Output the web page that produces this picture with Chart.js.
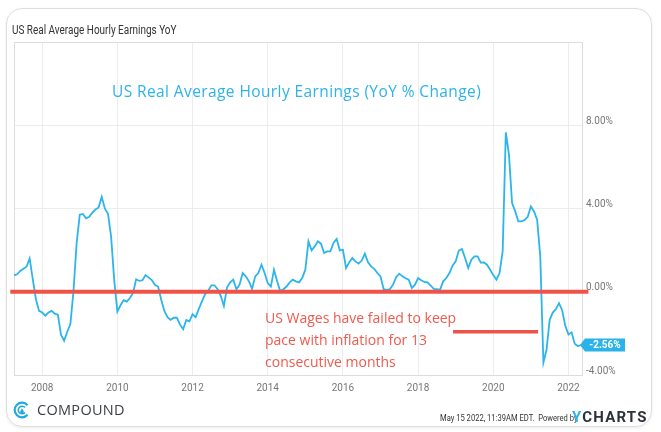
<!DOCTYPE html>
<html>
<head>
<meta charset="utf-8">
<script src="https://cdn.jsdelivr.net/npm/chart.js@4.4.1/dist/chart.umd.min.js"></script>
<style>
html, body { margin: 0; padding: 0; background: #fff; }
#wrap { position: relative; width: 661px; height: 432px; overflow: hidden; font-family: Roboto, sans-serif; }
#card { position: absolute; left: 6px; top: 8px; width: 644px; height: 417px; border: 1px solid #dedede; border-radius: 16px; box-shadow: 0 1px 3px rgba(0,0,0,0.08); }
canvas { position: absolute; left: 0; top: 0; }
.txt { position: absolute; white-space: nowrap; }
#head { left: 12px; top: 23px; font-size: 12px; color: #333; transform: scaleX(0.83); transform-origin: left center; }
#title { left: 112px; top: 80px; font-family: 'Open Sans', sans-serif; font-size: 15.5px; letter-spacing: 0.4px; color: #2cb3ea; }
#note { left: 265px; top: 307px; font-family: 'Open Sans', sans-serif; font-size: 14px; line-height: 22px; color: #ef5a4e; }
#logo { left: 13px; top: 401px; }
#compound { left: 37px; top: 400px; font-family: 'Open Sans', sans-serif; font-size: 14.5px; color: #3b3f45; letter-spacing: 0.3px; }
#stamp { left: 440px; top: 412px; font-size: 9.5px; color: #333; transform: scaleX(0.8); transform-origin: left center; }
#ycharts { left: 572px; top: 408px; font-size: 15px; font-weight: bold; color: #2d3138; letter-spacing: 1.2px; }
#ycharts span { color: #2cb5ea; }
</style>
</head>
<body>
<div id="wrap">
  <div id="card"></div>
  <canvas id="chart" width="661" height="432"></canvas>
  <div class="txt" id="head">US Real Average Hourly Earnings YoY</div>
  <div class="txt" id="title">US Real Average Hourly Earnings (YoY % Change)</div>
  <div class="txt" id="note">US Wages have failed to keep<br>pace with inflation for 13<br>consecutive months</div>
  <svg class="txt" id="logo" width="18" height="18" viewBox="0 0 18 18">
    <path d="M14.5 4.2 A7.3 7.3 0 1 0 14.5 13.8" fill="none" stroke="#22a8e0" stroke-width="2.2"/>
    <path d="M12 6.6 A3.8 3.8 0 1 0 12 11.4" fill="none" stroke="#22a8e0" stroke-width="1.6"/>
    <path d="M9 7.2 L10.6 10 A1.8 1.8 0 1 1 7.4 10 Z" fill="#22a8e0"/>
  </svg>
  <div class="txt" id="compound">COMPOUND</div>
  <div class="txt" id="stamp">May 15 2022, 11:39AM EDT.&nbsp; Powered by</div>
  <div class="txt" id="ycharts"><span>Y</span>CHARTS</div>
</div>
<script>
// monthly series, first value is March 2007 (plotted at month end)
const startYear = 2007;
const startMonth = 3;
const yoyChange = [
  // 2007 Mar-Dec
  0.79, 0.84, 1.0, 1.1, 1.2, 1.6, 0.6, -0.36, -0.92, -1.0,
  // 2008
  -1.15, -1.0, -0.92, -1.05, -1.1, -2.06, -2.35, -1.92, -1.55, 0.05, 2.35, 3.7,
  // 2009
  3.74, 3.53, 3.6, 3.8, 3.95, 4.05, 4.56, 4.0, 3.75, 2.65, 0.55, -0.95,
  // 2010
  -0.65, -0.4, -0.47, -0.3, -0.06, 0.6, 0.52, 0.55, 0.8, 0.68, 0.56, 0.32,
  // 2011
  0.25, -0.38, -0.92, -1.22, -1.35, -1.25, -1.25, -1.58, -1.8, -1.36, -1.42, -1.08,
  // 2012
  -1.22, -0.82, -0.46, -0.12, 0.05, 0.31, 0.31, 0.12, -0.2, -0.68, 0.2, 0.45,
  // 2013
  0.58, 0.12, 0.34, 0.9, 0.74, 0.5, 0.14, 0.74, 0.9, 1.3, 0.9, 0.42,
  // 2014
  0.25, 1.06, 0.5, 0.02, 0.12, 0.25, 0.45, 0.58, 0.5, 0.45, 0.66, 1.06,
  // 2015
  2.42, 1.99, 2.18, 2.42, 2.31, 1.86, 1.94, 1.94, 2.34, 2.54, 1.99, 2.02,
  // 2016
  1.14, 1.41, 1.62, 1.46, 1.35, 1.5, 1.83, 1.41, 1.22, 1.1, 0.9, 0.74,
  // 2017
  0.12, 0.09, 0.12, 0.34, 0.7, 0.87, 0.74, 0.65, 0.58, 0.18, 0.34, 0.66,
  // 2018
  0.55, 0.47, 0.45, 0.3, 0.14, 0.12, 0.09, 0.5, 0.66, 0.9, 1.25, 1.46,
  // 2019
  1.98, 2.05, 1.62, 1.14, 1.54, 1.7, 1.7, 1.4, 1.41, 1.3, 1.06, 0.8,
  // 2020
  0.58, 0.9, 1.95, 7.66, 6.59, 4.26, 3.86, 3.38, 3.38, 3.45, 3.6, 4.1,
  // 2021
  3.86, 3.46, 1.7, -3.4, -2.79, -1.35, -1.0, -0.83, -0.55, -0.9, -1.65, -2.05,
  // 2022 Jan-Apr
  -1.95, -2.5, -2.62, -2.56
];
const xTickYears = [2008, 2010, 2012, 2014, 2016, 2018, 2020, 2022];
const yTickValues = [-4, 0, 4, 8, 12];

// hand drawn red marks (in data units)
const zeroMark = [[2007.15, 0], [2022.53, 0]];
const noteMark = [[2018.93, -1.92], [2021.19, -1.92]];

const points = yoyChange.map((v, i) => ({ x: startYear + (startMonth + i) / 12, y: v }));

// light border around the plot
const frame = {
  id: 'frame',
  beforeDatasetsDraw(chart) {
    const { ctx, chartArea: a } = chart;
    ctx.save();
    ctx.strokeStyle = '#dcdcdc';
    ctx.lineWidth = 1;
    ctx.strokeRect(Math.round(a.left) + 0.5, Math.round(a.top) + 0.5, Math.round(a.right - a.left), Math.round(a.bottom - a.top));
    ctx.restore();
  }
};

// blue tag with the latest value
const lastTag = {
  id: 'lastTag',
  afterDatasetsDraw(chart) {
    const meta = chart.getDatasetMeta(2);
    const pt = meta.data[meta.data.length - 1];
    const ctx = chart.ctx;
    const x = pt.x - 1, y = pt.y;
    ctx.save();
    ctx.fillStyle = '#29b3e8';
    ctx.beginPath();
    ctx.moveTo(x, y);
    ctx.lineTo(x + 5, y - 6.5);
    ctx.lineTo(x + 45, y - 6.5);
    ctx.lineTo(x + 45, y + 6.5);
    ctx.lineTo(x + 5, y + 6.5);
    ctx.closePath();
    ctx.fill();
    ctx.fillStyle = '#fff';
    ctx.font = 'bold 10px Roboto';
    ctx.textAlign = 'center';
    ctx.textBaseline = 'middle';
    ctx.fillText(yoyChange[yoyChange.length - 1].toFixed(2) + '%', x + 25, y + 0.5);
    ctx.restore();
  }
};

const redLine = (pts, w) => ({
  data: pts.map(p => ({ x: p[0], y: p[1] })),
  borderColor: '#ef5347',
  borderWidth: w,
  pointRadius: 0,
  clip: false,
  order: 0
});

new Chart(document.getElementById('chart').getContext('2d'), {
  type: 'line',
  data: {
    datasets: [
      redLine(zeroMark, 4),
      redLine(noteMark, 3.5),
      { data: points, borderColor: '#2cb5ec', borderWidth: 1.8, pointRadius: 0, tension: 0, order: 1 }
    ]
  },
  options: {
    responsive: false,
    animation: false,
    layout: { padding: { left: 14, top: 42, right: 0, bottom: 0 } },
    plugins: { legend: { display: false }, tooltip: { enabled: false } },
    scales: {
      x: {
        type: 'linear',
        min: 2007.25,
        max: 2022.36,
        afterBuildTicks: axis => { axis.ticks = xTickYears.map(v => ({ value: v })); },
        afterFit: axis => { axis.height = 57; },
        grid: { color: '#ececec', drawTicks: false },
        border: { display: false },
        ticks: { color: '#777', font: { family: 'Roboto', size: 10 }, padding: 7, maxRotation: 0, callback: v => String(v) }
      },
      y: {
        position: 'right',
        min: -4,
        max: 12,
        afterBuildTicks: axis => { axis.ticks = yTickValues.map(v => ({ value: v })); },
        afterFit: axis => { axis.width = 79; },
        grid: { color: '#ececec', drawTicks: false },
        border: { display: false },
        ticks: { color: '#777', font: { family: 'Roboto', size: 10 }, padding: 4, labelOffset: -4,
          callback: v => v === 12 ? '' : v.toFixed(2) + '%' }
      }
    }
  },
  plugins: [frame, lastTag]
});
</script>
</body>
</html>
